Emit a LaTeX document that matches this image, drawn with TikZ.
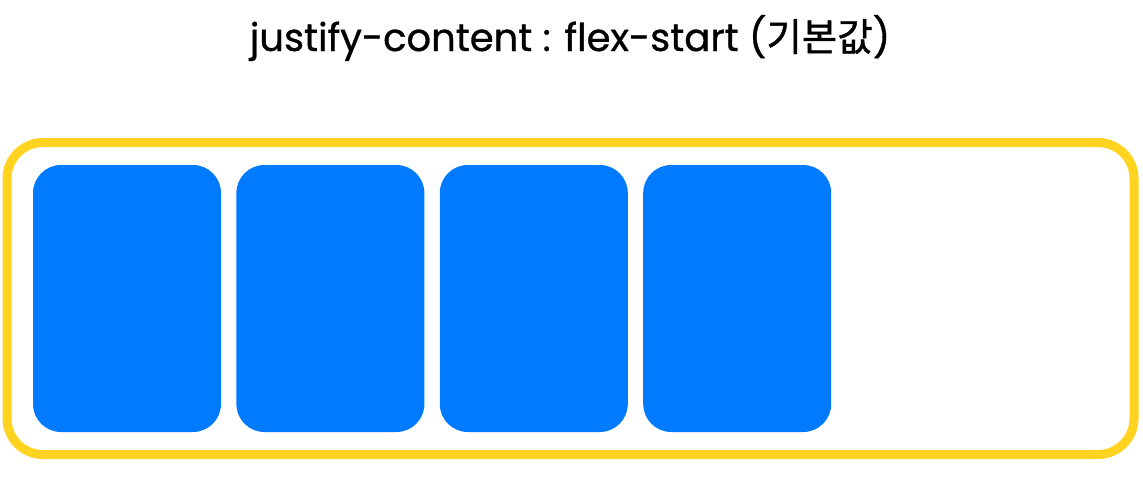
\documentclass[tikz,border=0pt]{standalone}
\usepackage{fontspec}
\setmainfont{Poppins}[UprightFeatures={FakeBold=0.8}]
\newfontfamily\krfont{Noto Sans CJK KR}[UprightFeatures={FakeBold=1.2}]
\usetikzlibrary{positioning}
\definecolor{itemblue}{HTML}{007AFF}
\definecolor{frameyellow}{HTML}{FFD320}

\begin{document}
\begin{tikzpicture}[
  x=1pt, y=1pt,
  node distance=15pt and 15pt,
  item/.style={fill=itemblue, rounded corners=28pt, inner sep=0pt, minimum width=188pt, minimum height=267pt},
  frame/.style={draw=frameyellow, line width=9pt, rounded corners=36pt, inner sep=0pt, minimum width=1127pt, minimum height=312pt}
]
\useasboundingbox (0,0) rectangle (1143,-483);
\node[anchor=base, font=\fontsize{38.5}{46}\selectfont] (title) at (570,-51) {justify-content : flex-start ({\krfont 기본값})};
\node[frame] (container) at (570.5,-298.5) {};
\node[item] (item1) at (127,-298.5) {};
\node[item, right=of item1] (item2) {};
\node[item, right=of item2] (item3) {};
\node[item, right=of item3] (item4) {};
\end{tikzpicture}
\end{document}
